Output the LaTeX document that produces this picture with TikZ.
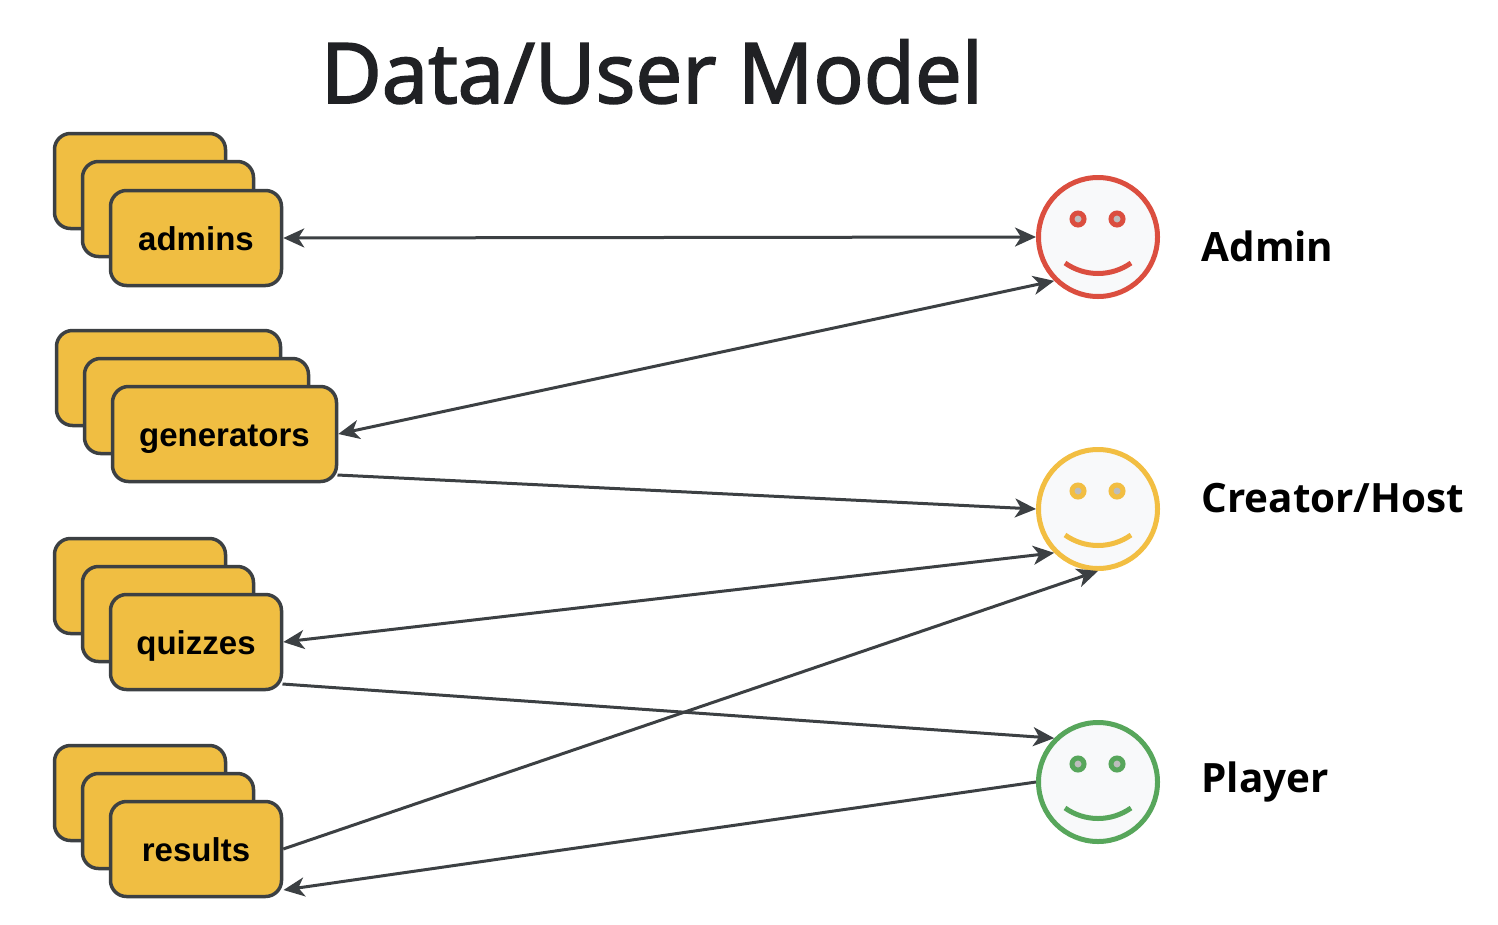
\documentclass[tikz,border=0pt]{standalone}
\usepackage{fontspec}
\setmainfont{Liberation Sans}
\newfontfamily\titlefont[FakeBold=2.2]{Open Sans}
\newfontfamily\rolefont{Open Sans}
\usetikzlibrary{arrows.meta,calc}
\definecolor{boxfill}{HTML}{F0BE42}
\definecolor{ink}{HTML}{3C4043}
\definecolor{titleink}{HTML}{202124}
\definecolor{facefill}{HTML}{F8F9FA}
\definecolor{fred}{HTML}{DB4E3F}
\definecolor{fyellow}{HTML}{F2BE42}
\definecolor{fgreen}{HTML}{57A65B}
\definecolor{eyegrey}{HTML}{BDBDBD}
\tikzset{
 tip/.tip={Stealth[length=21pt,width=19pt,inset=6pt]},
 card/.style={draw=ink,fill=boxfill,line width=3.5pt,rounded corners=16pt,minimum height=95pt,inner sep=0pt,outer sep=1.75pt,text height=25pt,text depth=0pt,font=\fontsize{33}{33}\selectfont\bfseries,text=black},
 smallcard/.style={card,minimum width=171pt},
 widecard/.style={card,minimum width=224pt},
 face/.style={circle,draw=#1,fill=facefill,line width=5pt,minimum size=119pt,inner sep=0pt,outer sep=2.5pt},
 eye/.style={circle,draw=#1,fill=eyegrey,line width=5pt,minimum size=12pt,inner sep=0pt},
 smile/.style={draw=#1,line width=5pt},
 conn/.style={draw=ink,line width=3pt,-{tip}},
 biconn/.style={draw=ink,line width=3pt,{tip}-{tip}},
 role/.style={anchor=base west,font=\rolefont\fontsize{40.4}{40.4}\selectfont\bfseries,text=black},
}
\begin{document}
\begin{tikzpicture}[x=1pt,y=-1pt]
\useasboundingbox (0,0) rectangle (1498,924);
\node[anchor=base,font=\titlefont\fontsize{83.5}{83.5}\selectfont,text=titleink] (title) at (652,103) {Data/User Model};
% admins
\node[smallcard] (a1) at (140,181) {};
\node[smallcard] (a2) at (168,209) {};
\node[smallcard] (admins) at (196,238) {admins};
% generators
\node[widecard] (g1) at (168.5,378) {};
\node[widecard] (g2) at (196.5,406) {};
\node[widecard] (generators) at (224.5,434) {generators};
% quizzes
\node[smallcard] (q1) at (140,586) {};
\node[smallcard] (q2) at (168,614) {};
\node[smallcard] (quizzes) at (196,642) {quizzes};
% results
\node[smallcard] (r1) at (140,793) {};
\node[smallcard] (r2) at (168,821) {};
\node[smallcard] (results) at (196,849) {results};
% faces
\foreach \n/\c/\y/\lab/\ly in {admin/fred/237/Admin/261, creator/fyellow/509/Creator\slash Host/512, player/fgreen/782/Player/792}{
 \node[face=\c] (\n) at (1098,\y) {};
 \node[eye=\c] (\n eyeL) at (1078,\y-18) {};
 \node[eye=\c] (\n eyeR) at (1117,\y-18) {};
 \draw[smile=\c] (1065,\y+26) .. controls (1085,\y+40) and (1111,\y+40) .. (1131,\y+26);
 \node[role] (\n label) at (1198,\ly) {\lab};
}
\coordinate (gout) at (337.5,475);
\coordinate (qout) at (282.5,684);
\coordinate (rin) at (283.5,890);
% connectors
\draw[biconn] (admins.east) -- (admin.west);
\draw[biconn] (generators.east) -- (admin.225);
\draw[conn] (gout) -- (creator.west);
\draw[biconn] (quizzes.east) -- (creator.225);
\draw[conn] (qout) -- (player.135);
\draw[conn] (results.east) -- (creator.south);
\draw[conn] (player.west) -- (rin);
\end{tikzpicture}
\end{document}
